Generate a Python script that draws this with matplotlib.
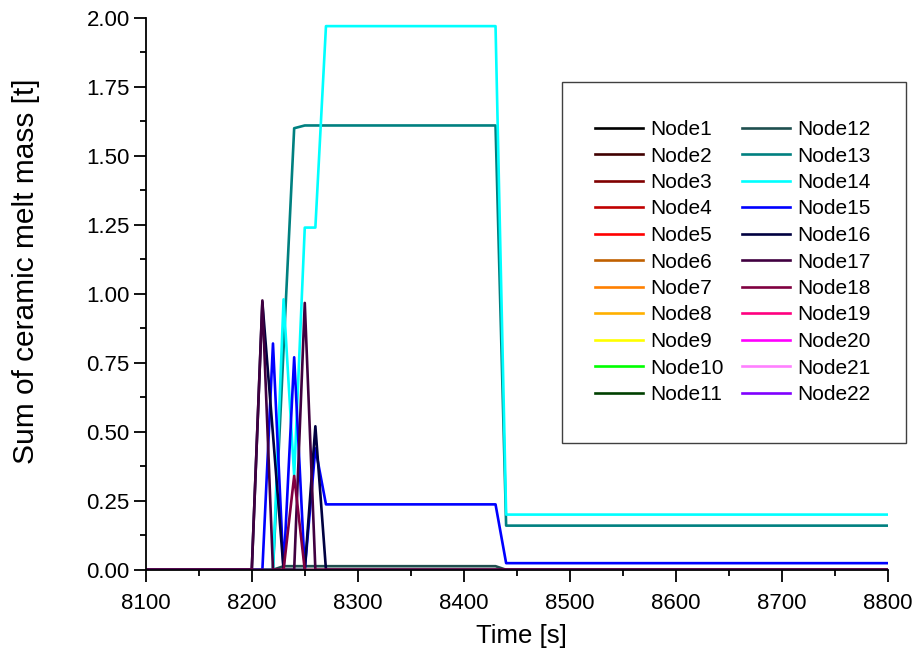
import matplotlib
matplotlib.use("Agg")
import matplotlib.pyplot as plt
from matplotlib.patches import Rectangle
from matplotlib.ticker import MultipleLocator, FormatStrFormatter

plt.rcParams["font.family"] = ["Liberation Sans", "DejaVu Sans"]

# Time points of the output (s).
time_s = [8100, 8200, 8210, 8220, 8230, 8240, 8250, 8260, 8270, 8430, 8440, 8800]

zeros = [0, 0, 0, 0, 0, 0, 0, 0, 0, 0, 0, 0]

# Ceramic melt mass per node (t).
node_mass = {
    "Node1": zeros,
    "Node2": zeros,
    "Node3": zeros,
    "Node4": zeros,
    "Node5": zeros,
    "Node6": zeros,
    "Node7": zeros,
    "Node8": zeros,
    "Node9": zeros,
    "Node10": zeros,
    "Node11": zeros,
    "Node12": [0, 0, 0, 0, 0.013, 0.013, 0.013, 0.013, 0.013, 0.013, 0, 0],
    "Node13": [0, 0, 0, 0, 0.80, 1.60, 1.61, 1.61, 1.61, 1.61, 0.16, 0.16],
    "Node14": [0, 0, 0, 0, 0.98, 0.34, 1.24, 1.24, 1.97, 1.97, 0.20, 0.20],
    "Node15": [0, 0, 0, 0.82, 0, 0.77, 0, 0.44, 0.237, 0.237, 0.024, 0.024],
    "Node16": [0, 0, 0.97, 0.49, 0, 0, 0, 0.52, 0, 0, 0, 0],
    "Node17": [0, 0, 0.976, 0, 0, 0, 0.967, 0, 0, 0, 0, 0],
    "Node18": [0, 0, 0, 0, 0, 0.34, 0, 0, 0, 0, 0, 0],
    "Node19": zeros,
    "Node20": zeros,
    "Node21": zeros,
    "Node22": zeros,
}

node_colors = [
    "#000000", "#400000", "#800000", "#C00000", "#FF0000", "#C06000",
    "#FF8000", "#FFB000", "#FFFF00", "#00FF00", "#004000", "#1F4F4F",
    "#008080", "#00FFFF", "#0000FF", "#000040", "#400040", "#800040",
    "#FF0080", "#FF00FF", "#FF80FF", "#8000FF",
]

fig = plt.figure(figsize=(9.17, 6.61), dpi=100)
ax = fig.add_axes([0.159, 0.138, 0.809, 0.835])

for (name, mass), color in zip(node_mass.items(), node_colors):
    ax.plot(time_s, mass, color=color, linewidth=1.9, label=name)

ax.set_xlim(8100, 8800)
ax.set_ylim(0, 2.0)
ax.xaxis.set_major_locator(MultipleLocator(100))
ax.xaxis.set_minor_locator(MultipleLocator(50))
ax.yaxis.set_major_locator(MultipleLocator(0.25))
ax.yaxis.set_minor_locator(MultipleLocator(0.125))
ax.yaxis.set_major_formatter(FormatStrFormatter("%.2f"))

for side in ["top", "right"]:
    ax.spines[side].set_visible(False)
for side in ["left", "bottom"]:
    ax.spines[side].set_linewidth(1.3)

ax.tick_params(which="major", direction="out", length=8.5, width=1.3, labelsize=16)
ax.tick_params(which="minor", direction="out", length=4.5, width=1.3)
ax.tick_params(axis="x", which="major", pad=8)
ax.tick_params(axis="y", which="major", pad=3)

# Axis labels, placed by hand to sit where the original has them.
ax.set_xlabel("Time [s]", fontsize=18.5, va="center")
ax.xaxis.set_label_coords(0.507, -0.12)
ax.set_ylabel("Sum of ceramic melt mass [t]", fontsize=21.5, va="center")
ax.yaxis.set_label_coords(-0.161, 0.54)

# Legend frame drawn separately, legend itself is centred inside it.
fig.patches.append(Rectangle((562 / 917, 1 - 443 / 661), 344 / 917, 361 / 661,
                             transform=fig.transFigure, facecolor="white",
                             edgecolor="#404040", linewidth=1.0, zorder=5))
fig.legend(loc="center", bbox_to_anchor=(733 / 917, 1 - 262 / 661), ncol=2,
           frameon=False, fontsize=15, handlelength=2.3, handletextpad=0.35,
           columnspacing=0.9, labelspacing=0.36)

fig.savefig("out.png", dpi=100)
